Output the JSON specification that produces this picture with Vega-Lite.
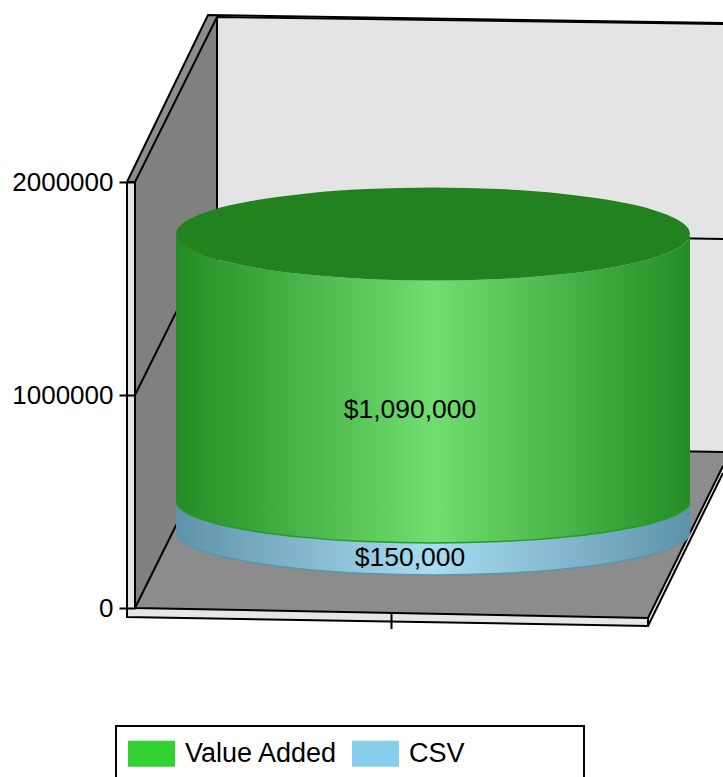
{"$schema":"https://vega.github.io/schema/vega-lite/v6.json","width":723,"height":777,"autosize":{"type":"none"},"padding":0,"background":"white","config":{"view":{"stroke":null},"font":"Liberation Sans"},
"datasets":{
"walls":[
{"part":"left","x":135,"y":2000070,"y2":0},{"part":"left","x":217,"y":2774745,"y2":774675},
{"part":"back","x":217,"y":2774745,"y2":774675},{"part":"back","x":723,"y":2741880,"y2":732420},
{"part":"floor","x":135,"y":0,"y2":0},{"part":"floor","x":217,"y":774675,"y2":-7512},{"part":"floor","x":648,"y":738524,"y2":-46950},{"part":"floor","x":723,"y":732420,"y2":666690},
{"part":"slabL","x":127,"y":2000070,"y2":-42255},{"part":"slabL","x":135,"y":2000070,"y2":-42255},
{"part":"slabF","x":135,"y":0,"y2":-42255},{"part":"slabF","x":648,"y":-46950,"y2":-84510},
{"part":"slabR","x":648,"y":-46950,"y2":-84510},{"part":"slabR","x":723,"y":666690,"y2":633825},
{"part":"strip","x":127,"y":2000070,"y2":2000070},{"part":"strip","x":135,"y":2077538,"y2":2000070},{"part":"strip","x":208,"y":2784135,"y2":2690235},{"part":"strip","x":217,"y":2783500,"y2":2774745}
],
"lines":[
{"seg":"a","i":1,"x":127,"y":2000070},{"seg":"a","i":2,"x":127,"y":-42255},{"seg":"a","i":3,"x":648,"y":-84510},{"seg":"a","i":4,"x":723,"y":633825},
{"seg":"b","i":1,"x":135,"y":2000070},{"seg":"b","i":2,"x":135,"y":0},{"seg":"b","i":3,"x":648,"y":-46950},{"seg":"b","i":4,"x":723,"y":666690},
{"seg":"c","i":1,"x":127,"y":2000070},{"seg":"c","i":2,"x":135,"y":2000070},
{"seg":"d","i":1,"x":127,"y":2000070},{"seg":"d","i":2,"x":208,"y":2784135},{"seg":"d","i":3,"x":723,"y":2746575},
{"seg":"e","i":1,"x":135,"y":2000070},{"seg":"e","i":2,"x":217,"y":2774745},{"seg":"e","i":3,"x":723,"y":2741880},
{"seg":"f","i":1,"x":217,"y":2774745},{"seg":"f","i":2,"x":217,"y":774675},{"seg":"f","i":3,"x":723,"y":732420},
{"seg":"g","i":1,"x":135,"y":0},{"seg":"g","i":2,"x":217,"y":774675},
{"seg":"h","i":1,"x":135,"y":1000000},{"seg":"h","i":2,"x":217,"y":1774710},{"seg":"h","i":3,"x":723,"y":1732455},
{"seg":"i","i":1,"x":648,"y":-46950},{"seg":"i","i":2,"x":648,"y":-84510},
{"seg":"t","i":1,"x":391.5,"y":-23475},{"seg":"t","i":2,"x":391.5,"y":-98595},
{"seg":"box","i":1,"x":116,"y":-793455},{"seg":"box","i":2,"x":116,"y":-554010},{"seg":"box","i":3,"x":584,"y":-554010},{"seg":"box","i":4,"x":584,"y":-793455}
],
"cyl":[
{"x":176,"hi":1755930,"lo":1755930,"mid":502365,"bot":356820},
{"x":177,"hi":1774967,"lo":1736893,"mid":485170,"bot":339216},
{"x":179.9,"hi":1793830,"lo":1718030,"mid":468133,"bot":321773},
{"x":184.8,"hi":1812431,"lo":1699429,"mid":451332,"bot":304572},
{"x":195.6,"hi":1839480,"lo":1672380,"mid":426900,"bot":279559},
{"x":210.4,"hi":1865089,"lo":1646771,"mid":403770,"bot":255877},
{"x":251.3,"hi":1910303,"lo":1601557,"mid":362932,"bot":214067},
{"x":304.5,"hi":1944993,"lo":1566867,"mid":331598,"bot":181987},
{"x":366.5,"hi":1966803,"lo":1545057,"mid":311899,"bot":161819},
{"x":433,"hi":1974248,"lo":1537612,"mid":305175,"bot":154935},
{"x":499.5,"hi":1966803,"lo":1545057,"mid":311899,"bot":161819},
{"x":561.5,"hi":1944993,"lo":1566867,"mid":331598,"bot":181987},
{"x":614.7,"hi":1910303,"lo":1601557,"mid":362932,"bot":214067},
{"x":655.6,"hi":1865089,"lo":1646771,"mid":403770,"bot":255877},
{"x":670.4,"hi":1839480,"lo":1672380,"mid":426900,"bot":279559},
{"x":681.2,"hi":1812431,"lo":1699429,"mid":451332,"bot":304572},
{"x":686.1,"hi":1793830,"lo":1718030,"mid":468133,"bot":321773},
{"x":689,"hi":1774967,"lo":1736893,"mid":485170,"bot":339216},
{"x":690,"hi":1755930,"lo":1755930,"mid":502365,"bot":356820}
],
"labels":[{"value":1090000,"x":410,"y":929610},{"value":150000,"x":410,"y":234750}],
"series":[{"series":"Value Added","value":1090000},{"series":"CSV","value":150000}]
},
"layer":[
{"data":{"name":"walls"},"transform":[{"filter":"datum.part==='back'"}],"mark":{"type":"area","orient":"vertical","color":"#e4e4e4"},
"encoding":{"x":{"field":"x","type":"quantitative","axis":null,"scale":{"domain":[0,723],"nice":false,"zero":false}},
"y":{"field":"y","type":"quantitative","scale":{"domain":[-793455,2854560],"nice":false,"zero":false},
"axis":{"values":[0,1000000,2000000],"format":"d","offset":-135,"tickSize":16,"tickWidth":2,"tickColor":"black","domain":false,"grid":false,"title":null,"labelFontSize":26,"labelPadding":6,"labelColor":"black","labelFont":"Liberation Sans","zindex":1}},
"y2":{"field":"y2"}}},
{"data":{"name":"walls"},"transform":[{"filter":"datum.part==='left'"}],"mark":{"type":"area","orient":"vertical","color":"#808080"},
"encoding":{"x":{"field":"x","type":"quantitative"},"y":{"field":"y","type":"quantitative"},"y2":{"field":"y2"}}},
{"data":{"name":"walls"},"transform":[{"filter":"datum.part==='floor'"}],"mark":{"type":"area","orient":"vertical","color":"#8c8c8c"},
"encoding":{"x":{"field":"x","type":"quantitative"},"y":{"field":"y","type":"quantitative"},"y2":{"field":"y2"}}},
{"data":{"name":"walls"},"transform":[{"filter":"datum.part==='strip'"}],"mark":{"type":"area","orient":"vertical","color":"#8c8c8c"},
"encoding":{"x":{"field":"x","type":"quantitative"},"y":{"field":"y","type":"quantitative"},"y2":{"field":"y2"}}},
{"data":{"name":"walls"},"transform":[{"filter":"indexof(datum.part,'slab')===0"}],"mark":{"type":"area","orient":"vertical","color":"#e6e6e6"},
"encoding":{"x":{"field":"x","type":"quantitative"},"y":{"field":"y","type":"quantitative"},"y2":{"field":"y2"},"detail":{"field":"part"}}},
{"data":{"name":"lines"},"mark":{"type":"line","color":"black","strokeWidth":2,"interpolate":"linear"},
"encoding":{"x":{"field":"x","type":"quantitative"},"y":{"field":"y","type":"quantitative"},"detail":{"field":"seg"},"order":{"field":"i","type":"quantitative"}}},
{"data":{"name":"cyl"},"mark":{"type":"area","orient":"vertical","interpolate":"monotone","color":{"gradient":"linear","x1":0,"y1":0,"x2":1,"y2":0,"stops":[{"offset":0,"color":"#5d93aa"},{"offset":0.5,"color":"#a8dcf2"},{"offset":1,"color":"#5d93aa"}]}},
"encoding":{"x":{"field":"x","type":"quantitative"},"y":{"field":"mid","type":"quantitative"},"y2":{"field":"bot"}}},
{"data":{"name":"cyl"},"mark":{"type":"area","orient":"vertical","interpolate":"monotone","color":{"gradient":"linear","x1":0,"y1":0,"x2":1,"y2":0,"stops":[{"offset":0,"color":"#248c24"},{"offset":0.5,"color":"#70de70"},{"offset":1,"color":"#248c24"}]}},
"encoding":{"x":{"field":"x","type":"quantitative"},"y":{"field":"lo","type":"quantitative"},"y2":{"field":"mid"}}},
{"data":{"name":"cyl"},"mark":{"type":"area","orient":"vertical","interpolate":"monotone","color":"#21821f"},
"encoding":{"x":{"field":"x","type":"quantitative"},"y":{"field":"hi","type":"quantitative"},"y2":{"field":"lo"}}},
{"data":{"name":"cyl"},"mark":{"type":"line","interpolate":"monotone","color":"#259a25","strokeWidth":1.5},
"encoding":{"x":{"field":"x","type":"quantitative"},"y":{"field":"mid","type":"quantitative"}}},
{"data":{"name":"cyl"},"mark":{"type":"line","interpolate":"monotone","color":"#5d93aa","strokeWidth":1.5},
"encoding":{"x":{"field":"x","type":"quantitative"},"y":{"field":"bot","type":"quantitative"}}},
{"data":{"name":"labels"},"mark":{"type":"text","fontSize":26.5,"font":"Liberation Sans","color":"black","baseline":"middle","align":"center"},
"encoding":{"x":{"field":"x","type":"quantitative"},"y":{"field":"y","type":"quantitative"},"text":{"field":"value","type":"quantitative","format":"$,"}}},
{"data":{"name":"series"},"mark":{"type":"square","opacity":0,"filled":true},
"encoding":{"color":{"field":"series","type":"nominal","scale":{"domain":["Value Added","CSV"],"range":["#32d232","#87ceeb"]},
"legend":{"title":null,"orient":"none","legendX":128,"legendY":730,"direction":"horizontal","columns":2,"symbolType":"M-1,-0.553H1V0.553H-1Z","symbolSize":2209,"symbolOpacity":1,"symbolStrokeWidth":0,"labelFontSize":27,"labelFont":"Liberation Sans","labelColor":"black","labelOffset":10,"columnPadding":14,"padding":0,"labelLimit":300}}}}
]}
